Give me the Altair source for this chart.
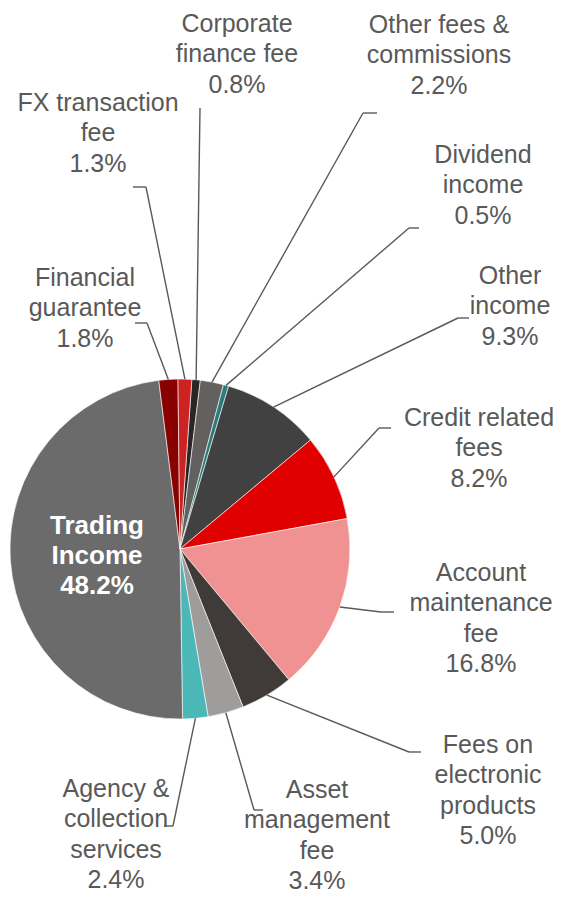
import math
import altair as alt
import pandas as pd

# ---- data ----
categories = [
    "Corporate finance fee", "Other fees & commissions", "Dividend income",
    "Other income", "Credit related fees", "Account maintenance fee",
    "Fees on electronic products", "Asset management fee",
    "Agency & collection services", "Trading Income",
    "Financial guarantee", "FX transaction fee",
]
values = [0.8, 2.2, 0.5, 9.3, 8.2, 16.8, 5.0, 3.4, 2.4, 48.2, 1.8, 1.3]
label_lines = [
    "Corporate\nfinance fee", "Other fees &\ncommissions", "Dividend\nincome",
    "Other\nincome", "Credit related\nfees", "Account\nmaintenance\nfee",
    "Fees on\nelectronic\nproducts", "Asset\nmanagement\nfee",
    "Agency &\ncollection\nservices", "Trading\nIncome",
    "Financial\nguarantee", "FX transaction\nfee",
]
colors = [
    "#2a2624", "#63615f", "#2a7b7b", "#414141", "#e00000", "#f09292",
    "#403b38", "#9e9d9b", "#4bb7b7", "#6b6b6b", "#880000", "#cc2222",
]

# ---- layout (chart pixel coords; page = chart + 8) ----
CX, CY, R = 171, 541, 170
OFFSET = math.radians(4)
label_x = [228, 430, 474, 501, 470, 472, 479, 308, 107, 88, 76, 89]
label_y = [24, 25, 155, 276, 418, 573, 745, 790, 789, 526, 278, 103]
elbow_x = [191, 354, 400, 449, 370, 372, 400, 245, 164, None, 138, 137]
elbow_y = [100, 105, 220, 310, 420, 604, 744, 802, 818, None, 315, 179]
end_x = [191, 368, 410, 460, 382, 385, 412, 254, 155, None, 126, 124]

df = pd.DataFrame({
    "cat": categories,
    "val": values,
    "idx": list(range(len(categories))),
    "label": [f"{l}\n{v:.1f}%" for l, v in zip(label_lines, values)],
    "lx": label_x, "ly": label_y,
    "elx": elbow_x, "ely": elbow_y, "hx": end_x,
})

base = alt.Chart(df).transform_window(
    cum="sum(val)", sort=[alt.SortField("idx")], frame=[None, 0]
).transform_joinaggregate(total="sum(val)").transform_calculate(
    mid=f"{OFFSET} + 2*PI*(datum.cum - datum.val/2)/datum.total",
    ex=f"{CX} + {R}*sin(datum.mid)",
    ey=f"{CY} - {R}*cos(datum.mid)",
)

pie = alt.Chart(df).mark_arc(outerRadius=R, stroke="white", strokeWidth=0.6).encode(
    theta=alt.Theta("val:Q", stack=True,
                    scale=alt.Scale(range=[OFFSET, OFFSET + 2 * math.pi])),
    color=alt.Color("cat:N", scale=alt.Scale(domain=categories, range=colors), legend=None),
    order=alt.Order("idx:Q"),
    x=alt.value(CX),
    y=alt.value(CY),
)

outside = base.transform_filter("datum.cat != 'Trading Income'")

line_col = "#595959"
seg1 = outside.mark_rule(color=line_col, strokeWidth=1.4).encode(
    x=alt.X("ex:Q", scale=None), y=alt.Y("ey:Q", scale=None),
    x2="elx:Q", y2="ely:Q",
)
seg2 = outside.mark_rule(color=line_col, strokeWidth=1.4).encode(
    x=alt.X("elx:Q", scale=None), y=alt.Y("ely:Q", scale=None),
    x2="hx:Q", y2="ely:Q",
)

labels = outside.mark_text(
    font="Liberation Sans", fontSize=25, color="#595959", align="center",
    baseline="alphabetic", lineBreak="\n", lineHeight=30.3,
).encode(
    x=alt.X("lx:Q", scale=None), y=alt.Y("ly:Q", scale=None), text="label:N",
)

inside = base.transform_filter("datum.cat == 'Trading Income'").mark_text(
    font="Liberation Sans", fontSize=26, fontWeight="bold", color="white",
    align="center", baseline="alphabetic", lineBreak="\n", lineHeight=30,
).encode(
    x=alt.X("lx:Q", scale=None), y=alt.Y("ly:Q", scale=None), text="label:N",
)

chart = alt.layer(pie, seg1, seg2, labels, inside).properties(
    width=546, height=886, padding=0,
    autosize=alt.AutoSizeParams(type="fit", contains="padding"),
).configure_view(stroke=None)

chart.save("out.html", embed_options={"renderer": "svg", "actions": False})
